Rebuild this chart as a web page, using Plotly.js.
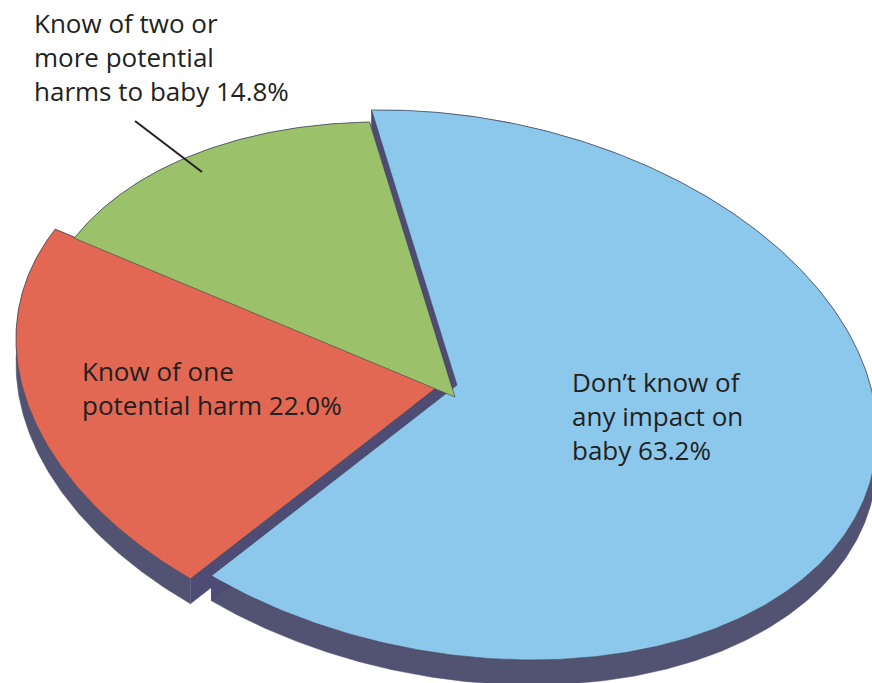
<!DOCTYPE html>
<html><head><meta charset="utf-8">
<script src="https://cdn.plot.ly/plotly-3.0.1.min.js"></script>
<style>html,body{margin:0;padding:0;background:#fff}#chart{width:872px;height:683px}</style>
</head><body><div id="chart"></div>
<script>
// ---- data ----
const categories = ["Don’t know of any impact on baby", "Know of one potential harm", "Know of two or more potential harms to baby"];
const values = [63.2, 22.0, 14.8];
const labelTexts = ["Don’t know of<br>any impact on<br>baby 63.2%", "Know of one<br>potential harm 22.0%", "Know of two or<br>more potential<br>harms to baby 14.8%"];

// ---- style / geometry ----
const colors = ["#8CC8EC", "#E26854", "#9BC16A"];
const rimColor = "#525272", wallColor = "#4E4C74", edgeColor = "#3a3a4c";
const W = 872, H = 683;
const BASE = {x: 455, y: 390};
const OFFSETS = [[2, -5], [-19, -2], [0, 7]];
const A = 424.8, B = 267.5, PHI = 11.13, START = -108.8, DEPTH = 25;
const LABEL_POS = [[570, 362], [80, 351], [32, 3]];

const rad = d => d * Math.PI / 180;
const cp = Math.cos(rad(PHI)), sp = Math.sin(rad(PHI));
function pt(cx, cy, t) {
  const u = A * Math.cos(t), v = B * Math.sin(t);
  return [cx + cp * u - sp * v, cy + sp * u + cp * v];
}
const total = values.reduce((s, v) => s + v, 0);
const rims = [], walls = [], faces = [];
let acc = 0;
values.forEach((val, i) => {
  const t1 = rad(START) + acc / total * 2 * Math.PI;
  acc += val;
  const t2 = rad(START) + acc / total * 2 * Math.PI;
  const cx = BASE.x + OFFSETS[i][0], cy = BASE.y + OFFSETS[i][1];
  const n = Math.max(10, Math.ceil((t2 - t1) / 0.01));
  const arc = [];
  for (let k = 0; k <= n; k++) arc.push(pt(cx, cy, t1 + (t2 - t1) * k / n));
  const rev = arc.slice().reverse();
  rims.push({type: 'scatter', mode: 'lines', fill: 'toself', fillcolor: rimColor,
    x: arc.map(p => p[0]).concat(rev.map(p => p[0])),
    y: arc.map(p => p[1]).concat(rev.map(p => p[1] + DEPTH)),
    line: {color: rimColor, width: 0.5}, hoverinfo: 'skip', name: categories[i]});
  [arc[0], arc[n]].forEach(p => {
    walls.push({type: 'scatter', mode: 'lines', fill: 'toself', fillcolor: wallColor,
      x: [cx, p[0], p[0], cx, cx], y: [cy, p[1], p[1] + DEPTH, cy + DEPTH, cy],
      line: {color: wallColor, width: 0.5}, hoverinfo: 'skip', name: categories[i]});
  });
  faces.push({type: 'scatter', mode: 'lines', fill: 'toself', fillcolor: colors[i],
    x: [cx].concat(arc.map(p => p[0]), [cx]), y: [cy].concat(arc.map(p => p[1]), [cy]),
    line: {color: edgeColor, width: 0.6}, hoverinfo: 'skip', name: categories[i]});
});

const annotations = labelTexts.map((txt, i) => ({
  x: LABEL_POS[i][0], y: LABEL_POS[i][1], xref: 'x', yref: 'y', text: txt,
  showarrow: false, xanchor: 'left', yanchor: 'top', align: 'left',
  font: {family: 'Open Sans, sans-serif', size: 26, color: '#231f20'}
}));

const layout = {
  width: W, height: H, margin: {l: 0, r: 0, t: 0, b: 0},
  paper_bgcolor: '#fff', plot_bgcolor: '#fff', showlegend: false,
  xaxis: {range: [0, W], visible: false, fixedrange: true},
  yaxis: {range: [H, 0], visible: false, fixedrange: true},
  annotations: annotations,
  shapes: [{type: 'line', xref: 'x', yref: 'y', x0: 135, y0: 121, x1: 202, y1: 172,
    line: {color: '#231f20', width: 2}}]
};
Plotly.newPlot('chart', rims.concat(walls, faces), layout, {displayModeBar: false, staticPlot: true});
</script></body></html>
